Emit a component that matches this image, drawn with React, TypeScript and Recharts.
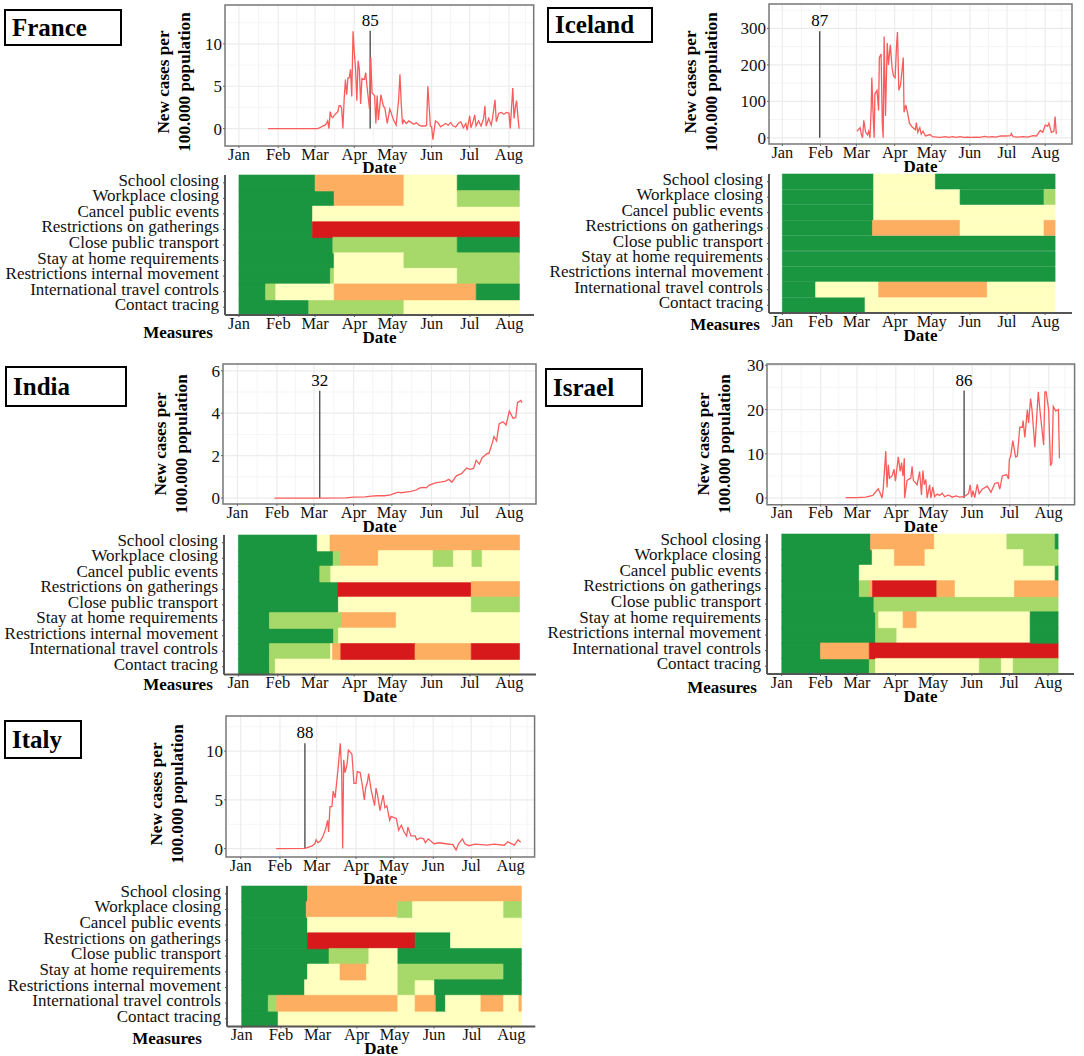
import React from "react";
import { LineChart, Line, BarChart, Bar, Cell, XAxis, YAxis, CartesianGrid, ReferenceLine, ReferenceArea } from "recharts";

// x is day of 2020 counted from Jan 1
const monthTicks = [0, 31, 60, 91, 121, 152, 182, 213];
const monthMinor = [15.5, 45.5, 75.5, 106, 136.5, 167, 197.5, 226];
const monthLabels = ["Jan", "Feb", "Mar", "Apr", "May", "Jun", "Jul", "Aug"];
const measures = [
  "School closing",
  "Workplace closing",
  "Cancel public events",
  "Restrictions on gatherings",
  "Close public transport",
  "Stay at home requirements",
  "Restrictions internal movement",
  "International travel controls",
  "Contact tracing",
];
const levelColors = ["#1a9641", "#a6d96a", "#ffffbf", "#fdae61", "#d7191c"];

// [day, new cases per 100.000]
const franceCases = [[23, 0], [40, 0], [62, 0], [64, 0.1], [66, 0.3], [68, 0.4], [69, 0.6], [70, 0.9], [71, 0], [72, 2], [73, 1.4], [74, 1.3], [76, 1.7], [78, 2], [79, 2.7], [80, 2.7], [81, 2.4], [82, 0], [83, 3.5], [84, 5.8], [85, 4], [86, 6], [87, 6], [88, 7], [89, 3.8], [90, 11.5], [91, 9], [92, 7], [93, 3.3], [94, 8], [95, 7], [96, 2.9], [97, 5.9], [99, 5.8], [100, 6.6], [101, 5], [103, 2.3], [104, 8.4], [105, 4.2], [107, 3.9], [108, 0.6], [109, 3.9], [110, 1], [112, 4], [114, 2.6], [115, 2.5], [117, 0.6], [119, 2.3], [122, 1], [124, 0.4], [126, 3.5], [127, 6.4], [128, 3], [129, 0.5], [130, 1], [132, 0.6], [134, 0.9], [136, 0.7], [138, 0.5], [140, 0.7], [142, 0.4], [144, 0.3], [147, 0.3], [148, 0.4], [149, 5], [150, 2.7], [151, 0.3], [152, 0.2], [153, -1.3], [155, 0.9], [157, 0.7], [159, 0.2], [161, 0.4], [163, 0.6], [165, 0.4], [167, 0.7], [169, 0.3], [171, 0.2], [173, 0.6], [175, 0.8], [177, 0.1], [179, 0.6], [180, -0.2], [182, 1.5], [183, 0.1], [185, 1], [186, 1.6], [187, 0.3], [189, 0.9], [191, 0.3], [193, 1.2], [194, 2.7], [195, 0.3], [197, 1.2], [199, 0.4], [200, 1.2], [202, 3.4], [203, 0.8], [205, 1.8], [207, 1.9], [209, 1.7], [211, 1.9], [213, 1.8], [214, 0], [216, 4.8], [217, 1.2], [218, 2.5], [219, 3.3], [220, 1.5], [221, 0]];
const icelandCases = [[60.5, 18], [63, 28], [64, 10], [65, 0], [66, 48], [67.5, 15], [69, 8], [70, 18], [71, 0], [72, 80], [72.5, 165], [73.6, 60], [74.4, 0], [75, 120], [76.7, 130], [78, 75], [78.6, 220], [80, 230], [81, 40], [81.7, 0], [82.5, 278], [83.6, 60], [85, 260], [86, 200], [87.5, 255], [89, 190], [90, 170], [91.4, 165], [92.5, 250], [93.3, 290], [94.4, 130], [95.8, 145], [98, 220], [98.6, 70], [100, 90], [101.4, 70], [103, 40], [105, 30], [107.8, 22], [108.6, 42], [109.7, 15], [111.4, 28], [112.5, 10], [114, 18], [116, 5], [119.7, 9], [121.7, 3], [125, 2], [128, 1], [132, 3], [135, 1], [138, 3], [141, 1], [144, 3], [147, 1], [150, 2], [153, 1], [157, 2], [160, 1], [164, 4], [167, 2], [170, 3], [173, 2], [177, 5], [181, 5], [185, 6], [185.5, 12], [187, 3], [191, 2], [195, 3], [199, 2], [203, 6], [206, 5], [209, 20], [211, 15], [213, 35], [215, 32], [216, 40], [218, 15], [220, 18], [221, 58], [222, 10]];
const indiaCases = [[29, 0], [60, 0], [85, 0.01], [91, 0.04], [100, 0.06], [105, 0.09], [110, 0.11], [115, 0.11], [120, 0.15], [123, 0.22], [126, 0.28], [128, 0.25], [132, 0.28], [136, 0.31], [140, 0.38], [143, 0.48], [146, 0.5], [148, 0.48], [150, 0.6], [155, 0.72], [160, 0.76], [163, 0.8], [165.6, 0.88], [168, 0.75], [171.5, 1.05], [175.5, 1.15], [179.6, 1.42], [182, 1.35], [185, 1.4], [187, 1.78], [189.5, 1.6], [191.7, 1.9], [195.7, 2.1], [197, 2.1], [199.7, 2.6], [201, 2.9], [203, 2.7], [205, 3.5], [208, 3.6], [210.5, 3.45], [213, 4.1], [216, 3.75], [218, 3.8], [219.4, 4.5], [222, 4.6], [223, 4.5]];
const israelCases = [[51, 0.1], [60, 0.1], [67, 0.2], [72.6, 0.6], [77, 2.1], [78, 1.5], [80, 0], [81, 2.2], [83, 10.6], [84, 2.4], [85, 7.5], [86, 4.5], [88, 5], [89.6, 6.5], [90.7, 3.8], [93, 9.3], [94.5, 6], [95.6, 8], [96.7, 5], [97.8, 9], [98, 0], [100, 4], [103, 4.5], [104, 7.2], [105, 4], [108, 3], [110, 6], [111.5, 0.7], [112.6, 6.2], [113.7, 3], [115, 4.2], [116, 0], [118, 3], [119, 0], [120.5, 2.5], [122, 0.3], [124, 0.9], [126, 0.6], [128, 1.1], [130, 0.3], [133, 0.7], [136, 0.2], [139, 0.5], [142, 0.2], [145.5, 0.3], [149, 1], [150.4, 3], [151.5, 0.2], [152.6, 1.7], [154, 0.1], [156, 3.1], [157.5, 1], [160, 2], [164, 2.7], [167, 1.3], [170, 3.3], [172.6, 3.5], [174, 2], [176, 5], [179.5, 5.3], [181, 4.3], [181.6, 8.7], [182.7, 9.5], [184.4, 13], [186.6, 9.3], [188, 9.5], [190, 16], [192, 16], [192.6, 17.5], [194, 13.7], [196, 20], [197, 17], [198.6, 22.5], [199.7, 20], [202, 11.5], [204.7, 24], [206, 20], [209, 12], [210, 24], [211, 24], [213, 20], [214.5, 7.3], [215.6, 8], [216.7, 20.7], [218.6, 19.7], [220.8, 20], [221.6, 9]];
const italyCases = [[28, 0], [50.7, 0.02], [53.7, 0.15], [56, 0.25], [58.5, 0.5], [59.6, 0.9], [61, 0.6], [63, 0.8], [65, 1.3], [67, 2], [68.6, 2.9], [69.4, 1.7], [70.5, 4.3], [72, 4.3], [73, 5.9], [74.5, 5.2], [76.7, 8], [78.6, 10.8], [79.7, 8], [80.5, 0], [81.3, 9.1], [82.4, 7.8], [84, 8.7], [85, 10.1], [87.8, 9.7], [89.4, 6.7], [91, 6.7], [92, 7.9], [94.3, 7.8], [96, 6.5], [97.6, 5], [98.6, 6.2], [100, 6.8], [101, 7.7], [103, 6], [105.7, 4.4], [106.8, 6.2], [108, 5.5], [110, 3.9], [111, 4.6], [112.5, 5.5], [113.8, 4.2], [115.4, 4.4], [117.6, 2.9], [118.7, 3.3], [122.8, 3.1], [124.7, 1.9], [126.8, 2.4], [129, 1.7], [131, 1.3], [132, 2.2], [134.4, 1.3], [137.7, 1.3], [139, 0.9], [141.7, 1.1], [144.4, 1], [145.8, 0.6], [148, 1], [152.6, 0.5], [156.6, 0.6], [162, 0.5], [167.5, 0.4], [170, -0.15], [172, 0.5], [175, 1], [177, 0.5], [180, 0.3], [185, 0.45], [194.6, 0.35], [200, 0.45], [208, 0.35], [210.8, 0.7], [216, 0.35], [219, 0.9], [221, 0.65]];

// each measure: [level, last day of that level], in measures order
const franceLevels = [
  [[0, 60], [3, 130], [2, 172], [0, 221]],
  [[0, 75], [3, 130], [2, 172], [1, 221]],
  [[0, 58], [2, 221]],
  [[0, 58], [4, 221]],
  [[0, 74], [1, 172], [0, 221]],
  [[0, 75], [2, 130], [1, 221]],
  [[0, 72], [1, 75], [2, 172], [1, 221]],
  [[0, 21], [1, 29], [2, 75], [3, 187], [0, 221]],
  [[0, 55], [1, 130], [2, 221]],
];
const icelandLevels = [
  [[0, 74], [2, 124], [0, 221]],
  [[0, 74], [2, 144], [0, 212], [1, 221]],
  [[0, 74], [2, 221]],
  [[0, 73], [3, 144], [2, 212], [3, 221]],
  [[0, 221]],
  [[0, 221]],
  [[0, 221]],
  [[0, 27], [2, 78], [3, 166], [2, 221]],
  [[0, 67], [2, 221]],
];
const indiaLevels = [
  [[0, 62], [2, 72], [3, 221]],
  [[0, 74.5], [1, 80], [3, 110], [2, 153], [1, 169], [2, 183.5], [1, 191.6], [2, 221]],
  [[0, 64], [1, 72.6], [2, 221]],
  [[0, 78], [4, 183], [3, 221]],
  [[0, 78.6], [2, 183], [1, 221]],
  [[0, 24.4], [1, 81], [3, 124], [2, 221]],
  [[0, 74.8], [1, 78.6], [2, 221]],
  [[0, 24.4], [1, 72.4], [2, 74], [3, 80.5], [4, 138.8], [3, 183], [4, 221]],
  [[0, 24.4], [1, 29], [2, 221]],
];
const israelLevels = [
  [[0, 71], [3, 122], [2, 180], [1, 218.6], [0, 221]],
  [[0, 72.3], [2, 90], [3, 114.5], [2, 193.4], [1, 221]],
  [[0, 62], [2, 218.6], [0, 221]],
  [[0, 62], [1, 70], [3, 72.6], [4, 124], [3, 138.6], [2, 186], [3, 221]],
  [[0, 73.7], [1, 221]],
  [[0, 75], [1, 77.5], [2, 97], [3, 108], [2, 198.6], [0, 221]],
  [[0, 75], [1, 92], [2, 198.6], [0, 221]],
  [[0, 31], [3, 70], [4, 221]],
  [[0, 70], [1, 75], [2, 158], [1, 175.6], [2, 185], [1, 221]],
];
const italyLevels = [
  [[0, 52], [3, 221]],
  [[0, 51], [3, 123], [1, 135], [2, 207], [1, 221]],
  [[0, 52], [2, 221]],
  [[0, 52], [4, 137], [0, 165], [2, 221]],
  [[0, 69], [1, 100.5], [2, 123.4], [0, 221]],
  [[0, 52], [2, 77.7], [3, 98.6], [2, 123.4], [1, 207], [0, 221]],
  [[0, 49.7], [2, 123.4], [1, 137], [2, 152.4], [0, 221]],
  [[0, 21], [1, 27.7], [3, 123.4], [2, 137], [3, 153.5], [0, 161], [2, 189], [3, 207], [2, 219], [3, 221]],
  [[0, 28.8], [2, 221]],
];

const serif = "'Liberation Serif', 'Times New Roman', serif";
const abs = (left: number, top: number): React.CSSProperties => ({ position: "absolute", left, top });
const pad = 12;

function CasesPlot({ p }: { p: any }) {
  const data = p.cases.map(([day, cases]: number[]) => ({ day, cases }));
  return (
    <div style={abs(p.line.x - 60, p.line.y - pad)}>
      <LineChart width={p.line.w + 60 + pad} height={p.line.h + pad + 34} data={data} margin={{ top: pad, right: pad, left: 0, bottom: 0 }} style={{ fontFamily: serif }}>
        <CartesianGrid stroke="#f3f3f3" strokeWidth={0.8} horizontalValues={p.yMinor} verticalValues={monthMinor} />
        <CartesianGrid stroke="#ececec" strokeWidth={1.2} horizontalValues={p.yTicks} verticalValues={monthTicks} />
        <XAxis
          type="number"
          dataKey="day"
          domain={p.lineX}
          ticks={monthTicks}
          tickFormatter={(_v: number, i: number) => monthLabels[i]}
          interval={0}
          height={34}
          tickSize={2}
          tickMargin={0}
          axisLine={false}
          tick={{ fontSize: 16.4, fill: "#111" }}
          label={{ value: "Date", position: "insideBottom", offset: 6.5, fontSize: 17, fontWeight: 700, fill: "#000" }}
        />
        <YAxis type="number" domain={p.yDomain} ticks={p.yTicks} width={60} tickSize={2} tickMargin={1} axisLine={false} interval={0} tick={{ fontSize: 17, fill: "#111" }} />
        <ReferenceArea x1={p.lineX[0]} x2={p.lineX[1]} y1={p.yDomain[0]} y2={p.yDomain[1]} fill="none" stroke="#777" strokeWidth={1.5} />
        <ReferenceLine
          segment={[{ x: p.marker.day, y: 0 }, { x: p.marker.day, y: p.marker.top }]}
          stroke="#333"
          strokeWidth={1.2}
          label={{ value: p.marker.label, position: "top", fontSize: 17, fill: "#000" }}
        />
        <Line type="linear" dataKey="cases" stroke="#fa5c5c" strokeWidth={1.3} dot={false} isAnimationActive={false} />
      </LineChart>
    </div>
  );
}

function LevelsPlot({ p }: { p: any }) {
  const maxSegs = Math.max(...p.levels.map((r: number[][]) => r.length));
  const rows = measures.map((measure, i) => {
    const row: any = { measure };
    let prev = 0;
    p.levels[i].forEach(([, end]: number[], s: number) => {
      row["seg" + s] = end - prev;
      prev = end;
    });
    return row;
  });
  const segs = Array.from({ length: maxSegs }, (_, s) => s);
  return (
    <div style={abs(p.heat.x - 230, p.heat.y - pad)}>
      <BarChart
        layout="vertical"
        width={p.heat.w + 230 + pad}
        height={p.heat.h + pad + 34}
        data={rows}
        barCategoryGap={0}
        margin={{ top: pad, right: pad, left: 0, bottom: 0 }}
        style={{ fontFamily: serif }}
      >
        <XAxis
          type="number"
          domain={p.heatX}
          ticks={monthTicks}
          tickFormatter={(_v: number, i: number) => monthLabels[i]}
          interval={0}
          height={34}
          tickSize={2}
          tickMargin={0}
          stroke="#555"
          axisLine={{ stroke: "#555", strokeWidth: 2 }}
          tick={{ fontSize: 16.4, fill: "#111" }}
          label={{ value: "Date", position: "insideBottom", offset: 6.5, fontSize: 17, fontWeight: 700, fill: "#000" }}
        />
        <YAxis
          type="category"
          dataKey="measure"
          width={230}
          interval={0}
          tickSize={2}
          tickMargin={4}
          stroke="#555"
          axisLine={{ stroke: "#555", strokeWidth: 2 }}
          tick={{ fontSize: 17, fill: "#111", dy: -3 }}
        />
        {segs.map((s) => (
          <Bar key={s} dataKey={"seg" + s} stackId="m" isAnimationActive={false}>
            {rows.map((_r, i) => {
              const seg = p.levels[i][s];
              const fill = seg ? levelColors[seg[0]] : "none";
              return <Cell key={i} fill={fill} stroke={fill} strokeWidth={0.6} />;
            })}
          </Bar>
        ))}
      </BarChart>
    </div>
  );
}

const panels = [
  {
    name: "France", box: [4, 9, 118, 37],
    cases: franceCases, levels: franceLevels,
    line: { x: 225, y: 4.7, w: 308.7, h: 141 }, lineX: [-11, 232.5], yDomain: [-2.06, 14.6], yTicks: [0, 5, 10], yMinor: [-2.5, 2.5, 7.5, 12.5],
    marker: { day: 103.5, top: 11.55, label: "85" },
    heat: { x: 225, y: 175, w: 309, h: 140 }, heatX: [-11, 232.5],
    yLabel: [173.5, 82], measuresAt: [178, 333],
  },
  {
    name: "Iceland", box: [547, 7, 106, 36],
    cases: icelandCases, levels: icelandLevels,
    line: { x: 769.4, y: 4, w: 303, h: 140 }, lineX: [-10.8, 234.7], yDomain: [-17, 367], yTicks: [0, 100, 200, 300], yMinor: [50, 150, 250, 350],
    marker: { day: 30.3, top: 292, label: "87" },
    heat: { x: 769.4, y: 174, w: 303, h: 139 }, heatX: [-10.8, 234.7],
    yLabel: [701, 82], measuresAt: [725, 325],
  },
  {
    name: "India", box: [5, 366, 122, 41],
    cases: indiaCases, levels: indiaLevels,
    line: { x: 223.2, y: 364, w: 313, h: 140 }, lineX: [-11.3, 233.9], yDomain: [-0.28, 6.32], yTicks: [0, 2, 4, 6], yMinor: [1, 3, 5],
    marker: { day: 64.5, top: 5.06, label: "32" },
    heat: { x: 223.5, y: 534.5, w: 312, h: 139.5 }, heatX: [-11.3, 233.9],
    yLabel: [171, 444], measuresAt: [178, 685],
  },
  {
    name: "Israel", box: [545, 368, 98, 39],
    cases: israelCases, levels: israelLevels,
    line: { x: 767.3, y: 364.3, w: 307.6, h: 140.7 }, lineX: [-11.8, 233.7], yDomain: [-1.5, 30.3], yTicks: [0, 10, 20, 30], yMinor: [5, 15, 25],
    marker: { day: 145.5, top: 24.3, label: "86" },
    heat: { x: 767.3, y: 533.5, w: 307, h: 140 }, heatX: [-11.8, 233.7],
    yLabel: [714, 444], measuresAt: [722, 688],
  },
  {
    name: "Italy", box: [4, 720, 78, 39],
    cases: italyCases, levels: italyLevels,
    line: { x: 226.3, y: 715.7, w: 308.6, h: 141 }, lineX: [-11.6, 232], yDomain: [-0.86, 13.6], yTicks: [0, 5, 10], yMinor: [2.5, 7.5, 12.5],
    marker: { day: 50.7, top: 10.8, label: "88" },
    heat: { x: 226.6, y: 885.5, w: 308.3, h: 140.5 }, heatX: [-11.6, 232],
    yLabel: [167, 794], measuresAt: [167, 1039],
  },
];

export default function App() {
  return (
    <div style={{ position: "absolute", left: 0, top: 0, width: 1084, height: 1056, background: "#fff", overflow: "hidden", fontFamily: serif }}>
      {panels.map((p) => (
        <React.Fragment key={p.name}>
          <div
            style={{
              ...abs(p.box[0], p.box[1]),
              width: p.box[2],
              height: p.box[3],
              boxSizing: "border-box",
              border: "2px solid #000",
              fontWeight: 700,
              fontSize: 25,
              lineHeight: p.box[3] - 4 + "px",
              paddingLeft: 6,
            }}
          >
            {p.name}
          </div>
          <CasesPlot p={p} />
          <LevelsPlot p={p} />
          <div
            style={{
              ...abs(p.yLabel[0], p.yLabel[1]),
              transform: "translate(-50%, -50%) rotate(-90deg)",
              textAlign: "center",
              whiteSpace: "nowrap",
              fontWeight: 700,
              fontSize: 17.2,
              lineHeight: "21px",
            }}
          >
            New cases per
            <br />
            100.000 population
          </div>
          <div style={{ ...abs(p.measuresAt[0], p.measuresAt[1]), transform: "translate(-50%, -50%)", fontWeight: 700, fontSize: 17, whiteSpace: "nowrap" }}>Measures</div>
        </React.Fragment>
      ))}
    </div>
  );
}
